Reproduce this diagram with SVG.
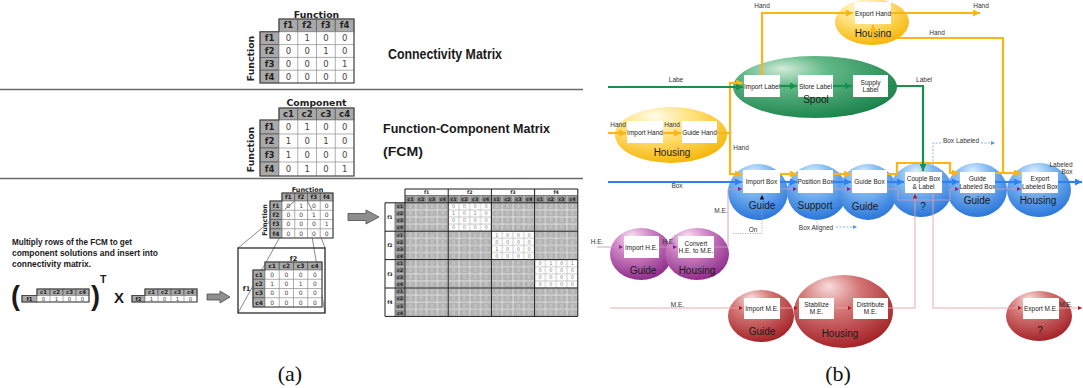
<svg xmlns="http://www.w3.org/2000/svg" width="1083" height="388" viewBox="0 0 1083 388">
<defs>
<style>
.sep{stroke:#6a6a6a;stroke-width:1.5;fill:none}
.cap{font-family:"Liberation Sans",Arial,sans-serif;font-weight:bold;fill:#1a1a1a}
.mt{font-family:"DejaVu Sans",Verdana,sans-serif;font-weight:bold;fill:#222;text-anchor:middle}
.mn{font-family:"DejaVu Sans",Verdana,sans-serif;fill:#444;text-anchor:middle}
.lc{fill:#a9a9a9;stroke:#5c5c5c;stroke-width:0.8}
.dc{fill:#fff;stroke:#8c8c8c;stroke-width:0.7}
.gl{stroke:#8c8c8c;stroke-width:0.7;fill:none}
.frame{fill:none;stroke:#4a4a4a;stroke-width:1.1}
.blk{fill:#8e8e8e;stroke:#4a4a4a;stroke-width:0.8}
.zl{stroke:#3a3a3a;stroke-width:0.6;fill:none}
.thk{stroke:#1a1a1a;stroke-width:1;fill:none}
.bd{font-family:"DejaVu Sans",Verdana,sans-serif;font-size:5px;fill:#dadada;text-anchor:middle}
.bd .w{fill:#858585}
.bh{font-family:"DejaVu Sans",Verdana,sans-serif;font-size:4.8px;font-weight:bold;fill:#222;text-anchor:middle}
.sub{font-family:"Liberation Serif","Times New Roman",serif;font-size:22px;fill:#111;text-anchor:middle}
.box{fill:#fff}
.bt{font-family:"Liberation Sans",Arial,sans-serif;font-size:6.5px;fill:#222;text-anchor:middle}
.et{font-family:"Liberation Sans",Arial,sans-serif;font-size:10px;fill:#1a1a1a;text-anchor:middle}
.lt{font-family:"Liberation Sans",Arial,sans-serif;font-size:6.5px;fill:#333;text-anchor:middle}
.co{fill:none;stroke:#fdb515;stroke-width:2.2}
.cg{fill:none;stroke:#17914b;stroke-width:2.2}
.cb{fill:none;stroke:#2e80f5;stroke-width:2.2}
.cp{fill:none;stroke:#c79ac2;stroke-width:0.9}
.cr{fill:none;stroke:#e9a3a3;stroke-width:0.9}
.cd{fill:none;stroke:#9aa3ad;stroke-width:0.8;stroke-dasharray:1.2 1.2}
.cdb{fill:none;stroke:#6aa5ee;stroke-width:0.8;stroke-dasharray:2 1.5}
</style>
<radialGradient id="gBlue" cx="0.45" cy="0.3" r="0.7" fx="0.42" fy="0.15"><stop offset="0" stop-color="#dcedff"/><stop offset="0.35" stop-color="#8cc1f4"/><stop offset="1" stop-color="#2a76da"/></radialGradient>
<radialGradient id="gGreen" cx="0.35" cy="0.3" r="0.75" fx="0.3" fy="0.2"><stop offset="0" stop-color="#d2ecdb"/><stop offset="0.35" stop-color="#62b887"/><stop offset="1" stop-color="#1b824c"/></radialGradient>
<radialGradient id="gYellow" cx="0.4" cy="0.3" r="0.75" fx="0.35" fy="0.15"><stop offset="0" stop-color="#fffbe6"/><stop offset="0.45" stop-color="#ffe07a"/><stop offset="1" stop-color="#f5b300"/></radialGradient>
<radialGradient id="gPurple" cx="0.4" cy="0.3" r="0.75" fx="0.35" fy="0.15"><stop offset="0" stop-color="#f8e0f4"/><stop offset="0.4" stop-color="#cf86c6"/><stop offset="1" stop-color="#8a2686"/></radialGradient>
<radialGradient id="gRed" cx="0.4" cy="0.3" r="0.75" fx="0.35" fy="0.15"><stop offset="0" stop-color="#f8dcdc"/><stop offset="0.4" stop-color="#d47676"/><stop offset="1" stop-color="#a11d22"/></radialGradient>
<marker id="ao" viewBox="0 0 10 10" refX="10" refY="5" markerWidth="7" markerHeight="7" markerUnits="userSpaceOnUse" orient="auto"><path d="M0,0L10,5L0,10z" fill="#fdb515"/></marker>
<marker id="ag" viewBox="0 0 10 10" refX="10" refY="5" markerWidth="7" markerHeight="7" markerUnits="userSpaceOnUse" orient="auto"><path d="M0,0L10,5L0,10z" fill="#17914b"/></marker>
<marker id="ab" viewBox="0 0 10 10" refX="10" refY="5" markerWidth="7" markerHeight="7" markerUnits="userSpaceOnUse" orient="auto"><path d="M0,0L10,5L0,10z" fill="#2e80f5"/></marker>
<marker id="ar" viewBox="0 0 10 10" refX="10" refY="5" markerWidth="4.5" markerHeight="4.5" markerUnits="userSpaceOnUse" orient="auto"><path d="M0,0L10,5L0,10z" fill="#b3141b"/></marker>
<marker id="ap" viewBox="0 0 10 10" refX="10" refY="5" markerWidth="4.5" markerHeight="4.5" markerUnits="userSpaceOnUse" orient="auto"><path d="M0,0L10,5L0,10z" fill="#8b1a8b"/></marker>
<marker id="ak" viewBox="0 0 10 10" refX="10" refY="5" markerWidth="4.5" markerHeight="4.5" markerUnits="userSpaceOnUse" orient="auto"><path d="M0,0L10,5L0,10z" fill="#111"/></marker>
<marker id="al" viewBox="0 0 10 10" refX="10" refY="5" markerWidth="4.5" markerHeight="4.5" markerUnits="userSpaceOnUse" orient="auto"><path d="M0,0L10,5L0,10z" fill="#4f95ee"/></marker>
<pattern id="pg" x="405" y="202.8" width="10.8" height="7.1" patternUnits="userSpaceOnUse"><rect width="10.8" height="7.1" fill="#b2b2b2" stroke="#e4e4e4" stroke-width="0.9"/></pattern>
<pattern id="pw" x="405" y="202.8" width="10.8" height="7.1" patternUnits="userSpaceOnUse"><rect width="10.8" height="7.1" fill="#fff" stroke="#c4c4c4" stroke-width="0.9"/></pattern>
<pattern id="ps" x="405" y="195.5" width="10.8" height="7.3" patternUnits="userSpaceOnUse"><rect width="10.8" height="7.3" fill="#8a8a8a" stroke="#d4d4d4" stroke-width="0.9"/></pattern>
<pattern id="pr" x="395" y="202.8" width="10" height="7.1" patternUnits="userSpaceOnUse"><rect width="10" height="7.1" fill="#8a8a8a" stroke="#d4d4d4" stroke-width="0.9"/></pattern>
</defs>
<rect width="1083" height="388" fill="#fff"/>

<!-- ===== (a) matrix construction ===== -->
<g id="panel-a">
<path class="sep" d="M0 89.5H583M0 178.5H583"/>

<!-- connectivity matrix -->
<g id="conn-matrix">
<text class="mt" font-size="9.3" x="316.5" y="17.5">Function</text>
<text class="mt" font-size="9.3" transform="translate(254,58.5) rotate(-90)">Function</text>
<rect class="lc" x="279" y="19" width="18.75" height="12.8"/><rect class="lc" x="297.75" y="19" width="18.75" height="12.8"/><rect class="lc" x="316.5" y="19" width="18.75" height="12.8"/><rect class="lc" x="335.25" y="19" width="18.75" height="12.8"/>
<rect class="lc" x="260" y="31.8" width="19" height="12.8"/><rect class="lc" x="260" y="44.6" width="19" height="12.8"/><rect class="lc" x="260" y="57.4" width="19" height="12.8"/><rect class="lc" x="260" y="70.2" width="19" height="12.8"/>
<rect class="dc" x="279" y="31.8" width="75" height="51.2"/>
<path class="gl" d="M297.75 31.8V83M316.5 31.8V83M335.25 31.8V83M279 44.6H354M279 57.4H354M279 70.2H354"/>
<path class="frame" d="M279 19H354V83H260V31.8H279Z"/>
<text class="mt" font-size="8.5" y="28.4"><tspan x="288.4">f1</tspan><tspan x="307.1">f2</tspan><tspan x="325.9">f3</tspan><tspan x="344.6">f4</tspan></text>
<text class="mt" font-size="8.5" x="269.5" y="41.2">f1</text><text class="mt" font-size="8.5" x="269.5" y="54">f2</text><text class="mt" font-size="8.5" x="269.5" y="66.8">f3</text><text class="mt" font-size="8.5" x="269.5" y="79.6">f4</text>
<text class="mn" font-size="8.5" x="288.4 307.1 325.9 344.6" y="41.2">0100</text>
<text class="mn" font-size="8.5" x="288.4 307.1 325.9 344.6" y="54">0010</text>
<text class="mn" font-size="8.5" x="288.4 307.1 325.9 344.6" y="66.8">0001</text>
<text class="mn" font-size="8.5" x="288.4 307.1 325.9 344.6" y="79.6">0000</text>
<text class="cap" x="388" y="59" font-size="14" textLength="114" lengthAdjust="spacingAndGlyphs">Connectivity Matrix</text>
</g>

<!-- function-component matrix -->
<g id="fcm-matrix">
<text class="mt" font-size="9.3" x="316.5" y="106.2">Component</text>
<text class="mt" font-size="9.3" transform="translate(254,149.5) rotate(-90)">Function</text>
<rect class="lc" x="279" y="108" width="18.75" height="12"/><rect class="lc" x="297.75" y="108" width="18.75" height="12"/><rect class="lc" x="316.5" y="108" width="18.75" height="12"/><rect class="lc" x="335.25" y="108" width="18.75" height="12"/>
<rect class="lc" x="260" y="120" width="19" height="14"/><rect class="lc" x="260" y="134" width="19" height="14"/><rect class="lc" x="260" y="148" width="19" height="14"/><rect class="lc" x="260" y="162" width="19" height="14"/>
<rect class="dc" x="279" y="120" width="75" height="56"/>
<path class="gl" d="M297.75 120V176M316.5 120V176M335.25 120V176M279 134H354M279 148H354M279 162H354"/>
<path class="frame" d="M279 108H354V176H260V120H279Z"/>
<text class="mt" font-size="8.5" y="117"><tspan x="288.4">c1</tspan><tspan x="307.1">c2</tspan><tspan x="325.9">c3</tspan><tspan x="344.6">c4</tspan></text>
<text class="mt" font-size="8.5" x="269.5" y="130">f1</text><text class="mt" font-size="8.5" x="269.5" y="144">f2</text><text class="mt" font-size="8.5" x="269.5" y="158">f3</text><text class="mt" font-size="8.5" x="269.5" y="172">f4</text>
<text class="mn" font-size="8.5" x="288.4 307.1 325.9 344.6" y="130">0100</text>
<text class="mn" font-size="8.5" x="288.4 307.1 325.9 344.6" y="144">1010</text>
<text class="mn" font-size="8.5" x="288.4 307.1 325.9 344.6" y="158">1000</text>
<text class="mn" font-size="8.5" x="288.4 307.1 325.9 344.6" y="172">0101</text>
<text class="cap" x="383" y="132.5" font-size="13.5" textLength="167" lengthAdjust="spacingAndGlyphs">Function-Component Matrix</text>
<text class="cap" x="383" y="156" font-size="13.5" textLength="40" lengthAdjust="spacingAndGlyphs">(FCM)</text>
</g>

<!-- row product -->
<g id="row-product">
<text class="cap" font-size="9.6" x="12" y="245" textLength="120" lengthAdjust="spacingAndGlyphs">Multiply rows of the FCM to get</text>
<text class="cap" font-size="9.6" x="12" y="256" textLength="146" lengthAdjust="spacingAndGlyphs">component solutions and insert into</text>
<text class="cap" font-size="9.6" x="12" y="267" textLength="79" lengthAdjust="spacingAndGlyphs">connectivity matrix.</text>
<text class="cap" x="11" y="305" font-size="27">(</text>
<rect class="lc" x="37" y="289" width="13" height="6.5"/><rect class="lc" x="50" y="289" width="13" height="6.5"/><rect class="lc" x="63" y="289" width="13" height="6.5"/><rect class="lc" x="76" y="289" width="13" height="6.5"/>
<rect class="lc" x="22" y="295.5" width="15" height="6.5"/>
<rect class="dc" x="37" y="295.5" width="52" height="6.5"/>
<path class="gl" d="M50 295.5V302M63 295.5V302M76 295.5V302"/>
<path class="frame" d="M37 289H89V302H22V295.5H37Z"/>
<text class="mt" font-size="5.4" y="294.2"><tspan x="43.5">c1</tspan><tspan x="56.5">c2</tspan><tspan x="69.5">c3</tspan><tspan x="82.5">c4</tspan></text>
<text class="mt" font-size="5.4" x="29.5" y="300.7">f1</text>
<text class="mn" font-size="5.4" x="43.5 56.5 69.5 82.5" y="300.7">0100</text>
<text class="cap" x="91" y="305" font-size="27">)</text>
<text class="cap" x="100" y="283" font-size="10.5">T</text>
<text class="cap" x="114" y="303" font-size="15">X</text>
<rect class="lc" x="145" y="289" width="13" height="6.5"/><rect class="lc" x="158" y="289" width="13" height="6.5"/><rect class="lc" x="171" y="289" width="13" height="6.5"/><rect class="lc" x="184" y="289" width="13" height="6.5"/>
<rect class="lc" x="132" y="295.5" width="13" height="6.5"/>
<rect class="dc" x="145" y="295.5" width="52" height="6.5"/>
<path class="gl" d="M158 295.5V302M171 295.5V302M184 295.5V302"/>
<path class="frame" d="M145 289H197V302H132V295.5H145Z"/>
<text class="mt" font-size="5.4" y="294.2"><tspan x="151.5">c1</tspan><tspan x="164.5">c2</tspan><tspan x="177.5">c3</tspan><tspan x="190.5">c4</tspan></text>
<text class="mt" font-size="5.4" x="138.5" y="300.7">f2</text>
<text class="mn" font-size="5.4" x="151.5 164.5 177.5 190.5" y="300.7">1010</text>
<path class="blk" d="M207 294H220V291L230 297L220 303V300H207Z"/>
</g>

<!-- small connectivity matrix with expanded cell -->
<g id="cell-expansion">
<path class="zl" d="M294.75 201L238 248M294.75 210.25L238 313M307.5 201L325 248M307.5 210.25L325 313"/>
<text class="mt" font-size="6.5" x="307.5" y="191.8">Function</text>
<text class="mt" font-size="6.5" transform="translate(266.5,220) rotate(-90)">Function</text>
<rect class="lc" x="282" y="193" width="12.75" height="8"/><rect class="lc" x="294.75" y="193" width="12.75" height="8"/><rect class="lc" x="307.5" y="193" width="12.75" height="8"/><rect class="lc" x="320.25" y="193" width="12.75" height="8"/>
<rect class="lc" x="270" y="201" width="12" height="9.25"/><rect class="lc" x="270" y="210.25" width="12" height="9.25"/><rect class="lc" x="270" y="219.5" width="12" height="9.25"/><rect class="lc" x="270" y="228.75" width="12" height="9.25"/>
<rect class="dc" x="282" y="201" width="51" height="37" fill-opacity="0.85"/>
<path class="gl" d="M294.75 201V238M307.5 201V238M320.25 201V238M282 210.25H333M282 219.5H333M282 228.75H333"/>
<path class="zl" d="M294.75 201L285 209M307.5 201L312 210"/>
<path class="frame" d="M282 193H333V238H270V201H282Z"/>
<text class="mt" font-size="6" y="199.2"><tspan x="288.4">f1</tspan><tspan x="301.1">f2</tspan><tspan x="313.9">f3</tspan><tspan x="326.6">f4</tspan></text>
<text class="mt" font-size="6" x="276" y="207.7">f1</text><text class="mt" font-size="6" x="276" y="217">f2</text><text class="mt" font-size="6" x="276" y="226.2">f3</text><text class="mt" font-size="6" x="276" y="235.5">f4</text>
<text class="mn" font-size="6" x="288.4 301.1 313.9 326.6" y="207.7">0100</text>
<text class="mn" font-size="6" x="288.4 301.1 313.9 326.6" y="217">0010</text>
<text class="mn" font-size="6" x="288.4 301.1 313.9 326.6" y="226.2">0001</text>
<text class="mn" font-size="6" x="288.4 301.1 313.9 326.6" y="235.5">0000</text>
<rect x="238" y="248" width="87" height="65" fill="none" stroke="#2a2a2a" stroke-width="1.3"/>
<text class="mt" font-size="6.5" x="293.5" y="260.5">f2</text>
<text class="mt" font-size="6.5" x="246.5" y="291">f1</text>
<rect class="lc" x="265" y="262" width="14.25" height="8"/><rect class="lc" x="279.25" y="262" width="14.25" height="8"/><rect class="lc" x="293.5" y="262" width="14.25" height="8"/><rect class="lc" x="307.75" y="262" width="14.25" height="8"/>
<rect class="lc" x="253" y="270" width="12" height="9.25"/><rect class="lc" x="253" y="279.25" width="12" height="9.25"/><rect class="lc" x="253" y="288.5" width="12" height="9.25"/><rect class="lc" x="253" y="297.75" width="12" height="9.25"/>
<rect class="dc" x="265" y="270" width="57" height="37"/>
<path class="gl" d="M279.25 270V307M293.5 270V307M307.75 270V307M265 279.25H322M265 288.5H322M265 297.75H322"/>
<path class="frame" d="M265 262H322V307H253V270H265Z"/>
<text class="mt" font-size="6" y="268.2"><tspan x="272.1">c1</tspan><tspan x="286.4">c2</tspan><tspan x="300.6">c3</tspan><tspan x="314.9">c4</tspan></text>
<text class="mt" font-size="6" x="259" y="276.7">c1</text><text class="mt" font-size="6" x="259" y="286">c2</text><text class="mt" font-size="6" x="259" y="295.2">c3</text><text class="mt" font-size="6" x="259" y="304.5">c4</text>
<text class="mn" font-size="6" x="272.1 286.4 300.6 314.9" y="276.7">0000</text>
<text class="mn" font-size="6" x="272.1 286.4 300.6 314.9" y="286">1010</text>
<text class="mn" font-size="6" x="272.1 286.4 300.6 314.9" y="295.2">0000</text>
<text class="mn" font-size="6" x="272.1 286.4 300.6 314.9" y="304.5">0000</text>
<path class="blk" d="M348 213.5H366V210L379 217L366 224V220.5H348Z"/>
</g>

<!-- full component-level connectivity matrix -->
<g id="full-matrix">
<rect fill="url(#pg)" x="405" y="202.8" width="172.8" height="113.6"/>
<rect fill="url(#pw)" x="448.2" y="202.8" width="43.2" height="28.4"/>
<rect fill="url(#pw)" x="491.4" y="231.2" width="43.2" height="28.4"/>
<rect fill="url(#pw)" x="534.6" y="259.6" width="43.2" height="28.4"/>
<rect fill="url(#ps)" x="405" y="195.5" width="172.8" height="7.3"/>
<rect fill="url(#pr)" x="395" y="202.8" width="10" height="113.6"/>
<rect fill="#fff" x="385" y="202.8" width="10" height="113.6"/>
<rect fill="#fff" x="405" y="189" width="172.8" height="6.5"/>
<path class="thk" d="M405 189V316.4M448.2 189V316.4M491.4 189V316.4M534.6 189V316.4M577.8 189V316.4M385 202.8V316.4M405 189H577.8M385 202.8H577.8M385 231.2H577.8M385 259.6H577.8M385 288H577.8M385 316.4H577.8"/>
<path stroke="#333" stroke-width="0.6" fill="none" d="M395 202.8V316.4M405 195.5H577.8"/>
<text class="bh" y="194.2"><tspan x="426.6">f1</tspan><tspan x="469.8">f2</tspan><tspan x="513">f3</tspan><tspan x="556.2">f4</tspan></text>
<text class="bh" y="201.2"><tspan x="410.4">c1</tspan><tspan x="421.2">c2</tspan><tspan x="432">c3</tspan><tspan x="442.8">c4</tspan><tspan x="453.6">c1</tspan><tspan x="464.4">c2</tspan><tspan x="475.2">c3</tspan><tspan x="486">c4</tspan><tspan x="496.8">c1</tspan><tspan x="507.6">c2</tspan><tspan x="518.4">c3</tspan><tspan x="529.2">c4</tspan><tspan x="540">c1</tspan><tspan x="550.8">c2</tspan><tspan x="561.6">c3</tspan><tspan x="572.4">c4</tspan></text>
<text class="bh" x="390"><tspan y="218.8">f1</tspan><tspan x="390" y="247.2">f2</tspan><tspan x="390" y="275.6">f3</tspan><tspan x="390" y="304">f4</tspan></text>
<text class="bh" x="400"><tspan y="208.15">c1</tspan><tspan x="400" y="215.25">c2</tspan><tspan x="400" y="222.35">c3</tspan><tspan x="400" y="229.45">c4</tspan><tspan x="400" y="236.55">c1</tspan><tspan x="400" y="243.65">c2</tspan><tspan x="400" y="250.75">c3</tspan><tspan x="400" y="257.85">c4</tspan><tspan x="400" y="264.95">c1</tspan><tspan x="400" y="272.05">c2</tspan><tspan x="400" y="279.15">c3</tspan><tspan x="400" y="286.25">c4</tspan><tspan x="400" y="293.35">c1</tspan><tspan x="400" y="300.45">c2</tspan><tspan x="400" y="307.55">c3</tspan><tspan x="400" y="314.65">c4</tspan></text>
<text class="bd" y="208.15"><tspan x="410.4 421.2 432 442.8">0000</tspan><tspan class="w" x="453.6 464.4 475.2 486">0000</tspan><tspan x="496.8 507.6 518.4 529.2 540 550.8 561.6 572.4">00000000</tspan></text>
<text class="bd" y="215.25"><tspan x="410.4 421.2 432 442.8">0000</tspan><tspan class="w" x="453.6 464.4 475.2 486">1010</tspan><tspan x="496.8 507.6 518.4 529.2 540 550.8 561.6 572.4">00000000</tspan></text>
<text class="bd" y="222.35"><tspan x="410.4 421.2 432 442.8">0000</tspan><tspan class="w" x="453.6 464.4 475.2 486">0000</tspan><tspan x="496.8 507.6 518.4 529.2 540 550.8 561.6 572.4">00000000</tspan></text>
<text class="bd" y="229.45"><tspan x="410.4 421.2 432 442.8">0000</tspan><tspan class="w" x="453.6 464.4 475.2 486">0000</tspan><tspan x="496.8 507.6 518.4 529.2 540 550.8 561.6 572.4">00000000</tspan></text>
<text class="bd" y="236.55"><tspan x="410.4 421.2 432 442.8 453.6 464.4 475.2 486">00000000</tspan><tspan class="w" x="496.8 507.6 518.4 529.2">1000</tspan><tspan x="540 550.8 561.6 572.4">0000</tspan></text>
<text class="bd" y="243.65"><tspan x="410.4 421.2 432 442.8 453.6 464.4 475.2 486">00000000</tspan><tspan class="w" x="496.8 507.6 518.4 529.2">0000</tspan><tspan x="540 550.8 561.6 572.4">0000</tspan></text>
<text class="bd" y="250.75"><tspan x="410.4 421.2 432 442.8 453.6 464.4 475.2 486">00000000</tspan><tspan class="w" x="496.8 507.6 518.4 529.2">1000</tspan><tspan x="540 550.8 561.6 572.4">0000</tspan></text>
<text class="bd" y="257.85"><tspan x="410.4 421.2 432 442.8 453.6 464.4 475.2 486">00000000</tspan><tspan class="w" x="496.8 507.6 518.4 529.2">0000</tspan><tspan x="540 550.8 561.6 572.4">0000</tspan></text>
<text class="bd" y="264.95"><tspan x="410.4 421.2 432 442.8 453.6 464.4 475.2 486 496.8 507.6 518.4 529.2">000000000000</tspan><tspan class="w" x="540 550.8 561.6 572.4">0101</tspan></text>
<text class="bd" y="272.05"><tspan x="410.4 421.2 432 442.8 453.6 464.4 475.2 486 496.8 507.6 518.4 529.2">000000000000</tspan><tspan class="w" x="540 550.8 561.6 572.4">0000</tspan></text>
<text class="bd" y="279.15"><tspan x="410.4 421.2 432 442.8 453.6 464.4 475.2 486 496.8 507.6 518.4 529.2">000000000000</tspan><tspan class="w" x="540 550.8 561.6 572.4">0000</tspan></text>
<text class="bd" y="286.25"><tspan x="410.4 421.2 432 442.8 453.6 464.4 475.2 486 496.8 507.6 518.4 529.2">000000000000</tspan><tspan class="w" x="540 550.8 561.6 572.4">0000</tspan></text>
<text class="bd" x="410.4 421.2 432 442.8 453.6 464.4 475.2 486 496.8 507.6 518.4 529.2 540 550.8 561.6 572.4" y="293.35">0000000000000000</text>
<text class="bd" x="410.4 421.2 432 442.8 453.6 464.4 475.2 486 496.8 507.6 518.4 529.2 540 550.8 561.6 572.4" y="300.45">0000000000000000</text>
<text class="bd" x="410.4 421.2 432 442.8 453.6 464.4 475.2 486 496.8 507.6 518.4 529.2 540 550.8 561.6 572.4" y="307.55">0000000000000000</text>
<text class="bd" x="410.4 421.2 432 442.8 453.6 464.4 475.2 486 496.8 507.6 518.4 529.2 540 550.8 561.6 572.4" y="314.65">0000000000000000</text>
</g>
<text class="sub" x="290" y="381">(a)</text>
</g>

<!-- ===== (b) function-component flow model ===== -->
<g id="panel-b">
<g id="n-export-hand">
<ellipse cx="872" cy="22" rx="37" ry="23" fill="url(#gYellow)"/>
<rect class="box" x="855" y="2" width="36" height="22"/>
<text class="bt" x="873" y="15.5">Export Hand</text>
<text class="et" x="873" y="36.5">Housing</text>
</g>
<g id="n-spool">
<ellipse cx="815" cy="87" rx="82" ry="31" fill="url(#gGreen)"/>
<rect class="box" x="744" y="75" width="36" height="22"/>
<rect class="box" x="798" y="75" width="35" height="22"/>
<rect class="box" x="853" y="75" width="35" height="22"/>
<text class="bt" x="762" y="88.5">Import Label</text>
<text class="bt" x="815.5" y="88.5">Store Label</text>
<text class="bt" x="870.5" y="84.5">Supply</text><text class="bt" x="870.5" y="91.5">Label</text>
<text class="et" x="816" y="102.5">Spool</text>
</g>
<g id="n-housing-hand">
<ellipse cx="671" cy="135" rx="56" ry="28" fill="url(#gYellow)"/>
<rect class="box" x="627" y="121" width="36" height="22"/>
<rect class="box" x="682" y="121" width="35" height="22"/>
<text class="bt" x="645" y="134.5">Import Hand</text>
<text class="bt" x="699.5" y="134.5">Guide Hand</text>
<text class="et" x="672" y="155.5">Housing</text>
</g>
<g id="n-guide-import-box">
<ellipse cx="758" cy="192" rx="30" ry="28" fill="url(#gBlue)"/>
<rect class="box" x="743" y="170" width="37" height="23"/>
<text class="bt" x="761.5" y="184">Import Box</text>
<text class="et" x="762" y="208.5">Guide</text>
</g>
<g id="n-support">
<ellipse cx="817" cy="192" rx="30" ry="28" fill="url(#gBlue)"/>
<rect class="box" x="798" y="170" width="35" height="23"/>
<text class="bt" x="815.5" y="184">Position Box</text>
<text class="et" x="815" y="208.5">Support</text>
</g>
<g id="n-guide-box">
<ellipse cx="868" cy="192" rx="29" ry="28" fill="url(#gBlue)"/>
<rect class="box" x="852" y="170" width="35" height="23"/>
<text class="bt" x="869.5" y="184">Guide Box</text>
<text class="et" x="865" y="209.5">Guide</text>
</g>
<g id="n-couple">
<ellipse cx="921" cy="190" rx="31" ry="27" fill="url(#gBlue)"/>
<rect class="box" x="905" y="172" width="37" height="21"/>
<text class="bt" x="923.5" y="181">Couple Box</text><text class="bt" x="923.5" y="188.5">&amp; Label</text>
<text class="et" x="923" y="210">?</text>
</g>
<g id="n-guide-labeled">
<ellipse cx="977" cy="190" rx="30" ry="27" fill="url(#gBlue)"/>
<rect class="box" x="960" y="172" width="35" height="21"/>
<text class="bt" x="977.5" y="181">Guide</text><text class="bt" x="977.5" y="188.5">Labeled Box</text>
<text class="et" x="977" y="204">Guide</text>
</g>
<g id="n-housing-export">
<ellipse cx="1039" cy="190" rx="32" ry="27" fill="url(#gBlue)"/>
<rect class="box" x="1022" y="172" width="36" height="21"/>
<text class="bt" x="1040" y="181">Export</text><text class="bt" x="1040" y="188.5">Labeled Box</text>
<text class="et" x="1038" y="204">Housing</text>
</g>
<g id="n-guide-he">
<ellipse cx="641" cy="254" rx="31" ry="26" fill="url(#gPurple)"/>
<rect class="box" x="624" y="236" width="35" height="22"/>
<text class="bt" x="641.5" y="249.5">Import H.E.</text>
<text class="et" x="643" y="274">Guide</text>
</g>
<g id="n-housing-he">
<ellipse cx="697" cy="254" rx="32" ry="26" fill="url(#gPurple)"/>
<rect class="box" x="678" y="236" width="36" height="22"/>
<text class="bt" x="696" y="245.5">Convert</text><text class="bt" x="696" y="253">H.E. to M.E.</text>
<text class="et" x="697" y="274">Housing</text>
</g>
<g id="n-guide-me">
<ellipse cx="761" cy="316" rx="33" ry="26" fill="url(#gRed)"/>
<rect class="box" x="744" y="298" width="36" height="21"/>
<text class="bt" x="762" y="310.5">Import M.E.</text>
<text class="et" x="762" y="335">Guide</text>
</g>
<g id="n-housing-me">
<ellipse cx="843.5" cy="311.5" rx="49.5" ry="36.5" fill="url(#gRed)"/>
<rect class="box" x="799" y="298" width="35" height="21"/>
<rect class="box" x="853" y="298" width="35" height="21"/>
<text class="bt" x="816.5" y="306.5">Stabilize</text><text class="bt" x="816.5" y="314">M.E.</text>
<text class="bt" x="870.5" y="306.5">Distribute</text><text class="bt" x="870.5" y="314">M.E.</text>
<text class="et" x="840" y="337">Housing</text>
</g>
<g id="n-export-me">
<ellipse cx="1039" cy="316" rx="33" ry="25" fill="url(#gRed)"/>
<rect class="box" x="1023" y="298" width="36" height="21"/>
<text class="bt" x="1041" y="310.5">Export M.E.</text>
<text class="et" x="1040" y="334">?</text>
</g>

<g id="connectors">
<!-- hand flow -->
<path class="co" d="M762 75V13H853" marker-end="url(#ao)"/>
<path class="co" d="M891 13H980" marker-end="url(#ao)"/>
<path class="co" d="M996 173H1021" marker-end="url(#ao)"/>
<path class="co" d="M1003 173V38H873V25" marker-end="url(#ao)"/>
<path class="co" d="M608 133H626" marker-end="url(#ao)"/>
<path class="co" d="M663 133H681" marker-end="url(#ao)"/>
<path class="co" d="M717 133H730V83H743" marker-end="url(#ao)"/>
<path class="co" d="M730 133V174H742" marker-end="url(#ao)"/>
<path class="co" d="M780 174H797" marker-end="url(#ao)"/>
<path class="co" d="M833 174H851" marker-end="url(#ao)"/>
<path class="co" d="M887 174H897V163H950V173H959" marker-end="url(#ao)"/>
<!-- label flow -->
<path class="cg" d="M608 87H743" marker-end="url(#ag)"/>
<path class="cg" d="M780 86H797" marker-end="url(#ag)"/>
<path class="cg" d="M833 86H852" marker-end="url(#ag)"/>
<path class="cg" d="M888 86H923V171" marker-end="url(#ag)"/>
<!-- box flow -->
<path class="cb" d="M608 182H742" marker-end="url(#ab)"/>
<path class="cb" d="M780 182H797" marker-end="url(#ab)"/>
<path class="cb" d="M833 182H851" marker-end="url(#ab)"/>
<path class="cb" d="M887 182H904" marker-end="url(#ab)"/>
<path class="cb" d="M942 182H959" marker-end="url(#ab)"/>
<path class="cb" d="M995 182H1021" marker-end="url(#ab)"/>
<path class="cb" d="M1058 182H1082" marker-end="url(#ab)"/>
<!-- energy flows -->
<path class="cp" d="M597 247H623" marker-end="url(#ap)"/>
<path class="cp" d="M659 247H677" marker-end="url(#ap)"/>
<path class="cp" d="M714 247H728V189H742" marker-end="url(#ap)"/>
<path class="cp" d="M780 189H797" marker-end="url(#ap)"/>
<path class="cp" d="M833 189H851" marker-end="url(#ap)"/>
<path class="cp" d="M887 189H898V200H950V189H959" marker-end="url(#ap)"/>
<path class="cp" d="M995 189H1021" marker-end="url(#ap)"/>
<path class="cr" d="M610 308H743" marker-end="url(#ar)"/>
<path class="cr" d="M780 308H798" marker-end="url(#ar)"/>
<path class="cr" d="M834 308H852" marker-end="url(#ar)"/>
<path class="cr" d="M888 308H915V194" marker-end="url(#ar)"/>
<path class="cr" d="M933 193V308H1022" marker-end="url(#ar)"/>
<path class="cr" d="M1059 308H1082" marker-end="url(#ar)"/>
<!-- signals -->
<path class="cd" d="M733 233.5H762V195" marker-end="url(#ak)"/>
<path class="cd" d="M817 219V224"/>
<path class="cdb" d="M836 227H857" marker-end="url(#al)"/>
<path class="cdb" d="M933 172V143H941"/>
<path class="cdb" d="M981 143H995" marker-end="url(#al)"/>
<!-- flow labels -->
<text class="lt" x="762" y="8">Hand</text>
<text class="lt" x="981" y="8">Hand</text>
<text class="lt" x="937" y="34.5">Hand</text>
<text class="lt" x="676" y="81.5">Labe</text>
<text class="lt" x="924" y="81.5">Label</text>
<text class="lt" x="618" y="127">Hand</text>
<text class="lt" x="672" y="127">Hand</text>
<text class="lt" x="741" y="149.5">Hand</text>
<text class="lt" x="677" y="188">Box</text>
<text class="lt" x="721" y="212.5">M.E.</text>
<text class="lt" x="753" y="231.5">On</text>
<text class="lt" x="816" y="229.5">Box Aligned</text>
<text class="lt" x="961" y="142.5">Box Labeled</text>
<text class="lt" x="1061" y="166.5" text-anchor="start">Labeled</text>
<text class="lt" x="1067" y="173.5" text-anchor="start">Box</text>
<text class="lt" x="597" y="243.5" text-anchor="start">H.E.</text>
<text class="lt" x="668.5" y="243.5">H.E.</text>
<text class="lt" x="677.5" y="306.5">M.E.</text>
<text class="lt" x="1066" y="306.5" text-anchor="start">M.E.</text>
</g>
<text class="sub" x="838" y="381">(b)</text>
</g>
</svg>
